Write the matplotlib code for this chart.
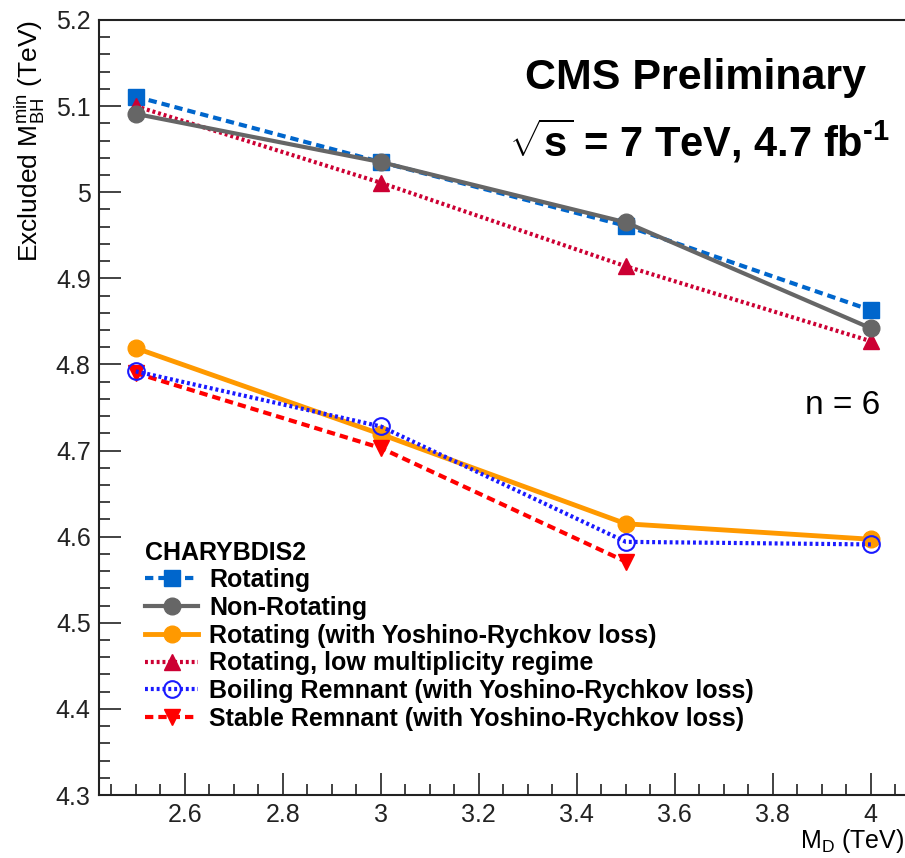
import numpy as np
import matplotlib
matplotlib.use("Agg")
import matplotlib.pyplot as plt
from matplotlib.ticker import MultipleLocator

md = [2.5, 3.0, 3.5, 4.0]

rotating = [5.111, 5.035, 4.961, 4.863]
non_rotating = [5.091, 5.035, 4.965, 4.842]
rotating_yr = [4.819, 4.719, 4.615, 4.597]
low_mult = [5.100, 5.011, 4.914, 4.827]
boiling_yr = [4.792, 4.728, 4.594, 4.591]
stable_md = [2.5, 3.0, 3.5]
stable_yr = [4.790, 4.703, 4.571]

plt.rcParams["font.family"] = ["Liberation Sans", "DejaVu Sans"]
plt.rcParams["mathtext.fontset"] = "custom"
plt.rcParams["mathtext.rm"] = "Liberation Sans"
plt.rcParams["mathtext.it"] = "Liberation Sans"
plt.rcParams["mathtext.bf"] = "Liberation Sans:bold"

fig = plt.figure(figsize=(9.05, 8.58), dpi=100)
ax = fig.add_axes([0.1094, 0.0734, 0.8935, 0.9033])

ax.plot(md, rotating, linestyle=(0, (2, 1.2)), color="#0066cc", lw=3,
        marker="s", ms=11, label="Rotating", zorder=3)
ax.plot(md, non_rotating, linestyle="-", color="#666666", lw=3,
        marker="o", ms=12, label="Non-Rotating", zorder=4)
ax.plot(md, rotating_yr, linestyle="-", color="#ff9900", lw=3.5,
        marker="o", ms=12, label="Rotating (with Yoshino-Rychkov loss)", zorder=3)
ax.plot(md, low_mult, linestyle=(0, (0.7, 0.7)), color="#cc0033", lw=3,
        marker="^", ms=12, label="Rotating, low multiplicity regime", zorder=3)
ax.plot(md, boiling_yr, linestyle=(0, (0.7, 0.7)), color="#1a1aff", lw=3,
        marker="o", ms=12, mfc="none", mew=1.5, label="Boiling Remnant (with Yoshino-Rychkov loss)", zorder=5)
ax.plot(stable_md, stable_yr, linestyle=(0, (2, 1.2)), color="#ff0000", lw=3,
        marker="v", ms=12, label="Stable Remnant (with Yoshino-Rychkov loss)", zorder=3)

ax.set_xlim(2.425, 4.075)
ax.set_ylim(4.3, 5.2)

ax.xaxis.set_major_locator(MultipleLocator(0.2))
ax.xaxis.set_minor_locator(MultipleLocator(0.05))
ax.yaxis.set_major_locator(MultipleLocator(0.1))
ax.yaxis.set_minor_locator(MultipleLocator(0.02))

ax.tick_params(which="both", direction="in", width=1.2, colors="#222222")
ax.tick_params(which="major", length=16)
ax.tick_params(which="minor", length=8)
ax.tick_params(axis="x", labelsize=18, pad=6)
ax.tick_params(axis="y", labelsize=18, pad=6)

ax.set_xticks([2.6, 2.8, 3.0, 3.2, 3.4, 3.6, 3.8, 4.0])
ax.set_xticklabels(["2.6", "2.8", "3", "3.2", "3.4", "3.6", "3.8", "4"])
ax.set_yticks([4.3, 4.4, 4.5, 4.6, 4.7, 4.8, 4.9, 5.0, 5.1, 5.2])
ax.set_yticklabels(["4.3", "4.4", "4.5", "4.6", "4.7", "4.8", "4.9", "5", "5.1", "5.2"])

for s in ["left", "top", "bottom"]:
    ax.spines[s].set_linewidth(1.5)
    ax.spines[s].set_color("#222222")
ax.spines["right"].set_visible(False)

fig.text(0.033, 0.977, r"Excluded M$_{\mathrm{BH}}^{\mathrm{min}}$ (TeV)", rotation=90,
         ha="center", va="top", fontsize=19)
fig.text(0.999, 0.004, r"M$_{\mathrm{D}}$ (TeV)", ha="right", va="bottom",
         fontsize=18)

ax.text(0.738, 0.925, "CMS Preliminary", transform=ax.transAxes, ha="center",
        va="center", fontsize=31, fontweight="bold")
ax.text(0.743, 0.843, "$\\sqrt{\\mathbf{s}}$ = 7 TeV, 4.7 fb$^{\\mathbf{\u20101}}$",
        transform=ax.transAxes, ha="center", va="center", fontsize=30,
        fontweight="bold")
ax.text(0.92, 0.503, "n = 6", transform=ax.transAxes, ha="center", va="center",
        fontsize=24)

leg = ax.legend(loc="lower left", bbox_to_anchor=(0.045, 0.07), frameon=False,
                title="CHARYBDIS2", alignment="left", handlelength=2.1,
                handletextpad=0.45, labelspacing=0.15, borderpad=0.2,
                borderaxespad=0.2,
                prop={"size": 18, "weight": "bold"},
                title_fontproperties={"size": 18, "weight": "bold"})
leg._legend_box.sep = 2
fig.savefig("out.png", dpi=100)
